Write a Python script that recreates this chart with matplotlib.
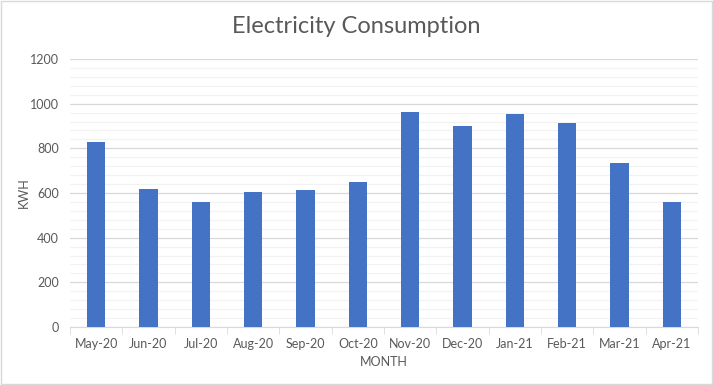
import matplotlib
matplotlib.use("Agg")
from matplotlib import pyplot as plt
from matplotlib.patches import Rectangle
import numpy as np

months = ["May-20", "Jun-20", "Jul-20", "Aug-20", "Sep-20", "Oct-20",
          "Nov-20", "Dec-20", "Jan-21", "Feb-21", "Mar-21", "Apr-21"]
kwh = [830, 618, 560, 605, 614, 650, 963, 900, 954, 914, 735, 560]

plt.rcParams['font.family'] = ['Lato', 'DejaVu Sans']
text_col = '#595959'

fig = plt.figure(figsize=(7.13, 3.85), dpi=100)
ax = fig.add_axes([0.0982, 0.1506, 0.8808, 0.6962])

x = np.arange(len(months))
ax.bar(x, kwh, width=0.35, color='#4472c4', zorder=3)

ax.set_xlim(-0.5, len(months) - 0.5)
ax.set_ylim(0, 1200)
ax.set_yticks(range(0, 1201, 200))
ax.set_yticks(range(0, 1201, 40), minor=True)
ax.grid(axis='y', which='major', color='#d9d9d9', lw=0.9, zorder=0)
ax.grid(axis='y', which='minor', color='#f2f2f2', lw=0.9, zorder=0)

ax.set_xticks(x)
ax.set_xticklabels(months)
ax.set_xticks(np.arange(-0.5, len(months)), minor=True)
ax.tick_params(axis='x', which='major', length=0, pad=8, labelsize=9, labelcolor=text_col)
ax.tick_params(axis='x', which='minor', length=5, color='#d9d9d9', direction='out')
ax.tick_params(axis='y', which='both', length=0, pad=8, labelsize=9, labelcolor=text_col)

for s in ['top', 'right', 'left']:
    ax.spines[s].set_visible(False)
ax.spines['bottom'].set_color('#d9d9d9')

ax.set_xlabel("MONTH", fontsize=9, color=text_col, labelpad=4)
ax.set_ylabel("KWH", fontsize=9, color=text_col, labelpad=0)

fig.text(0.5, 0.93, "Electricity Consumption", ha='center', va='center',
         fontsize=17, color=text_col)

fig.patches.append(Rectangle((0.001, 0.002), 0.997, 0.995, transform=fig.transFigure,
                             fill=False, edgecolor='#d9d9d9', lw=1))

fig.savefig("out.png", dpi=100)
